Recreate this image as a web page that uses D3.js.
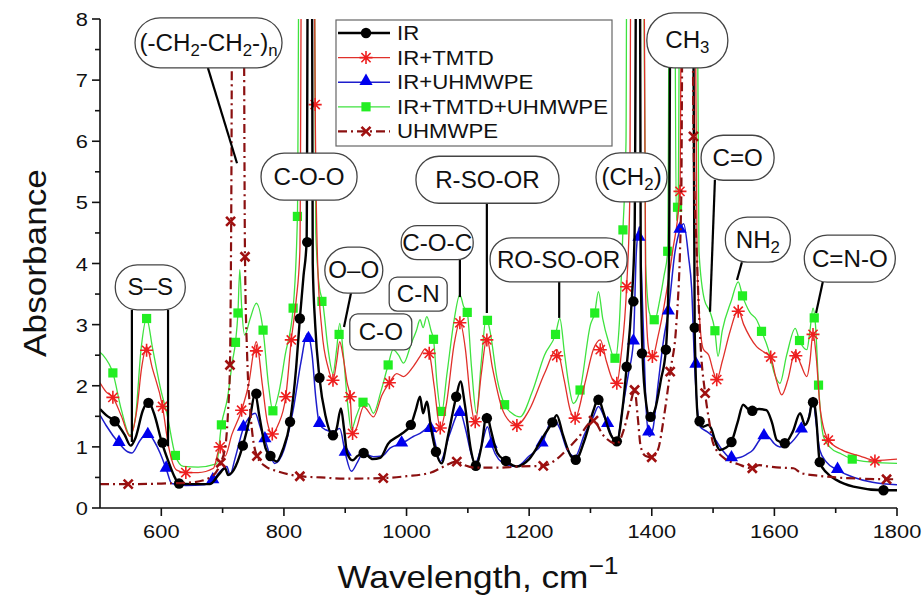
<!DOCTYPE html>
<html>
<head>
<meta charset="utf-8">
<script src="https://cdn.jsdelivr.net/npm/d3@7"></script>
<style>
body { margin: 0; background: #fff; }
text { font-family: "Liberation Sans", Arial, sans-serif; fill: #111; }
</style>
</head>
<body>
<div id="chart"></div>
<script>
// ---- data (wavenumber, absorbance) ----
var seriesNames = ["IR", "IR+TMTD", "IR+UHMWPE", "IR+TMTD+UHMWPE", "UHMWPE"];

var irLine = [[500,1.62],[510,1.52],[524,1.42],[540,1.2],[550,1.02],[558,1.15],[570,1.6],[579,1.74],[588,1.55],[601,1.07],[612,0.75],[622,0.5],[629,0.4],[650,0.39],[679,0.39],[694,0.55],[704,0.65],[709,0.54],[718,0.62],[733,1.02],[745,1.5],[753,1.88],[760,1.5],[770,0.98],[778,0.85],[788,0.76],[798,0.95],[810,1.41],[820,2.3],[826,3.1],[832,3.8],[837,4.35],[840,12],[845,12],[847,4.0],[851,3.0],[858,2.13],[868,1.5],[880,1.19],[886,1.3],[893,1.63],[898,1.3],[903,0.9],[912,0.78],[920,0.85],[930,0.9],[945,0.8],[957,0.82],[970,1.05],[990,1.2],[1007,1.36],[1015,1.6],[1022,1.82],[1027,1.55],[1033,1.74],[1040,1.3],[1048,0.92],[1057,0.73],[1068,1.2],[1081,1.82],[1088,2.07],[1095,1.7],[1105,0.95],[1113,0.69],[1122,1.0],[1131,1.54],[1137,1.3],[1148,0.9],[1162,0.77],[1180,0.68],[1200,0.8],[1225,1.2],[1238,1.4],[1245,1.52],[1255,1.2],[1268,0.85],[1276,0.79],[1290,1.1],[1305,1.6],[1313,1.8],[1320,1.6],[1333,1.2],[1343,1.09],[1352,1.6],[1359,2.31],[1367,3.35],[1372,4.5],[1376,12],[1380,12],[1382,4],[1385,2.5],[1391,1.7],[1397,1.47],[1405,1.6],[1415,2.1],[1423,2.59],[1428,4],[1432,12],[1466,12],[1470,2.9],[1476,1.42],[1484,1.33],[1492,1.36],[1497,1.3],[1505,1.05],[1511,0.95],[1520,0.98],[1530,1.08],[1540,1.4],[1549,1.69],[1557,1.62],[1564,1.59],[1575,1.62],[1587,1.6],[1596,1.4],[1604,1.11],[1617,1.06],[1630,1.25],[1642,1.55],[1650,1.36],[1657,1.5],[1663,1.8],[1668,1.5],[1674,0.75],[1685,0.58],[1701,0.46],[1729,0.35],[1778,0.29],[1800,0.29]];
var irMarks = [[524,1.42],[579,1.72],[602,1.07],[629,0.4],[733,1.02],[755,1.87],[778,0.85],[810,1.41],[826,3.1],[838,4.35],[858,2.13],[880,1.19],[930,0.9],[1007,1.36],[1048,0.92],[1081,1.82],[1113,0.69],[1131,1.47],[1162,0.77],[1238,1.4],[1276,0.79],[1313,1.77],[1343,1.09],[1359,2.31],[1370,3.38],[1384,2.53],[1398,1.49],[1423,2.59],[1470,2.95],[1478,1.42],[1530,1.08],[1564,1.59],[1617,1.06],[1663,1.73],[1674,0.75],[1778,0.29]];

var tmtdLine = [[500,2.05],[510,1.9],[521,1.81],[535,1.5],[549,1.17],[560,1.6],[568,2.3],[576,2.64],[585,2.3],[602,1.66],[612,1.0],[625,0.62],[640,0.58],[660,0.58],[685,0.65],[696,1.0],[704,0.85],[715,1.2],[731,1.6],[742,2.0],[755,2.72],[765,2.0],[773,1.4],[781,1.21],[790,1.35],[803,1.82],[812,2.75],[820,3.4],[826,4.2],[830,12],[848,12],[851,6.6],[855,4.0],[862,2.9],[872,2.3],[880,2.09],[886,2.4],[891,2.72],[897,2.45],[903,2.05],[908,1.82],[912,1.22],[918,1.3],[930,1.66],[946,1.49],[960,1.85],[972,2.05],[984,2.2],[995,2.15],[1010,2.3],[1022,2.48],[1030,2.6],[1037,2.53],[1045,2.0],[1055,1.3],[1065,1.7],[1078,2.7],[1087,3.05],[1096,2.6],[1104,1.8],[1112,1.39],[1122,2.2],[1131,2.78],[1140,2.3],[1155,1.65],[1170,1.4],[1180,1.36],[1200,1.6],[1225,2.2],[1245,2.59],[1257,2.1],[1267,1.6],[1275,1.47],[1290,2.0],[1305,2.6],[1316,2.75],[1326,2.4],[1336,2.1],[1343,2.04],[1350,2.5],[1359,3.62],[1364,5],[1367,12],[1386,12],[1390,3.5],[1395,2.6],[1401,2.46],[1410,2.8],[1420,3.3],[1434,4.2],[1446,5.18],[1450,12],[1468,12],[1474,4],[1478,3.1],[1484,2.6],[1493,2.5],[1500,2.25],[1506,2.1],[1515,2.4],[1528,2.9],[1541,3.24],[1550,3.0],[1560,2.8],[1571,2.64],[1583,2.55],[1594,2.47],[1603,2.1],[1612,1.85],[1622,2.1],[1634,2.56],[1643,2.35],[1653,2.15],[1658,2.4],[1663,2.86],[1668,2.5],[1675,1.6],[1688,1.11],[1710,0.95],[1740,0.85],[1764,0.78],[1800,0.8]];
var tmtdMarks = [[521,1.81],[576,2.58],[602,1.66],[640,0.58],[696,1.0],[731,1.6],[755,2.57],[781,1.21],[803,1.82],[812,2.75],[851,6.6],[880,2.09],[908,1.82],[912,1.22],[972,2.05],[1037,2.53],[1055,1.31],[1087,3.03],[1112,1.41],[1131,2.75],[1180,1.35],[1245,2.49],[1275,1.47],[1316,2.59],[1343,2.04],[1359,3.62],[1401,2.48],[1446,5.18],[1506,2.1],[1541,3.22],[1594,2.47],[1635,2.49],[1663,2.84],[1688,1.11],[1764,0.77]];

var uhLine = [[500,1.52],[510,1.35],[531,1.06],[545,0.92],[552,0.9],[565,1.1],[578,1.23],[588,1.1],[598,0.9],[608,0.64],[617,0.4],[640,0.37],[670,0.38],[684,0.45],[696,0.6],[707,0.68],[712,0.54],[720,0.8],[734,1.31],[745,1.5],[753,1.55],[762,1.3],[769,1.12],[778,0.85],[785,0.73],[800,0.95],[815,1.6],[828,2.4],[838,2.85],[846,2.5],[852,1.8],[858,1.37],[868,1.28],[880,1.25],[891,1.3],[900,0.9],[910,0.6],[920,0.75],[929,0.9],[946,0.84],[960,0.85],[973,0.98],[990,1.05],[1000,1.1],[1011,1.17],[1022,1.22],[1032,1.3],[1039,1.39],[1046,1.1],[1055,0.76],[1070,1.2],[1087,1.58],[1096,1.3],[1105,0.9],[1112,0.73],[1122,1.0],[1132,1.33],[1140,1.0],[1150,0.8],[1162,0.72],[1180,0.68],[1200,0.85],[1221,1.05],[1239,1.47],[1250,1.3],[1262,0.95],[1275,0.84],[1290,1.2],[1305,1.5],[1313,1.66],[1322,1.5],[1328,1.37],[1336,1.15],[1343,1.09],[1352,1.6],[1362,2.2],[1370,2.72],[1375,4.22],[1380,4.6],[1384,3.6],[1388,2.4],[1391,1.6],[1396,1.17],[1402,1.3],[1410,2.0],[1420,2.8],[1427,3.21],[1438,4.2],[1446,4.55],[1452,4.65],[1460,4.11],[1465,3.6],[1470,2.31],[1479,1.33],[1490,1.25],[1500,1.17],[1515,0.95],[1530,0.81],[1545,0.83],[1555,0.88],[1565,0.95],[1575,1.1],[1583,1.2],[1592,1.15],[1600,1.05],[1609,1.0],[1625,1.05],[1644,1.28],[1655,1.45],[1663,1.77],[1668,1.4],[1674,0.95],[1685,0.75],[1703,0.62],[1730,0.5],[1760,0.42],[1800,0.38]];
var uhMarks = [[531,1.06],[578,1.19],[608,0.64],[684,0.45],[734,1.31],[769,1.12],[840,2.76],[858,1.37],[900,0.9],[992,1.05],[1039,1.29],[1087,1.55],[1138,1.03],[1221,1.05],[1328,1.37],[1370,2.72],[1379,4.42],[1395,1.23],[1427,3.21],[1446,4.55],[1472,2.34],[1530,0.81],[1583,1.17],[1644,1.28],[1703,0.62]];

var allLine = [[500,2.55],[505,2.5],[521,2.21],[535,1.6],[549,1.19],[558,1.5],[567,2.6],[576,3.1],[586,2.6],[600,1.9],[609,1.55],[623,0.86],[636,0.68],[660,0.67],[690,0.72],[698,1.36],[708,1.8],[716,2.4],[721,2.71],[725,3.19],[728,3.9],[731,3.3],[736,2.83],[745,3.1],[755,3.35],[766,2.91],[775,2.0],[782,1.59],[792,1.9],[802,2.5],[815,3.27],[822,4.77],[826,12],[848,12],[852,4.5],[858,3.6],[863,3.39],[872,2.6],[880,2.2],[886,2.6],[891,3.02],[897,2.5],[904,1.7],[910,1.28],[918,1.5],[929,1.73],[938,1.7],[946,1.55],[958,1.9],[970,2.34],[978,2.59],[987,2.5],[995,2.37],[1008,2.7],[1016,2.9],[1022,3.08],[1027,2.95],[1033,3.13],[1040,2.9],[1044,2.76],[1050,2.0],[1057,1.55],[1066,2.2],[1078,3.1],[1087,3.49],[1093,3.3],[1099,3.2],[1106,2.3],[1114,1.55],[1122,2.4],[1130,3.12],[1136,2.9],[1148,2.1],[1160,1.69],[1172,1.55],[1185,1.49],[1205,1.9],[1225,2.5],[1243,2.84],[1250,3.1],[1258,2.5],[1265,2.0],[1272,1.71],[1283,1.93],[1300,3.0],[1307,3.19],[1313,3.54],[1320,3.1],[1330,2.7],[1340,2.43],[1347,3.0],[1353,4.55],[1358,6],[1360,12],[1385,12],[1390,4],[1396,3.2],[1404,3.05],[1413,3.4],[1420,3.8],[1426,4.2],[1430,12],[1436,12],[1440,4.7],[1443,4.92],[1447,12],[1472,12],[1477,4.2],[1486,3.4],[1495,3.21],[1503,2.9],[1508,2.48],[1515,2.9],[1530,3.4],[1541,3.7],[1548,3.47],[1560,3.2],[1571,3.08],[1579,2.89],[1590,2.6],[1600,2.2],[1609,2.04],[1620,2.5],[1634,2.94],[1641,2.74],[1653,2.59],[1658,2.9],[1663,3.27],[1667,3.0],[1672,2.01],[1680,1.17],[1690,1.0],[1710,0.88],[1727,0.8],[1760,0.75],[1800,0.73]];
var allMarks = [[521,2.21],[576,3.1],[623,0.86],[698,1.36],[721,2.71],[725,3.19],[766,2.91],[782,1.59],[815,3.27],[822,4.77],[862,3.38],[890,2.84],[929,1.73],[970,2.34],[1044,2.76],[1057,1.58],[1099,3.2],[1132,3.07],[1160,1.69],[1243,2.84],[1283,1.93],[1307,3.19],[1340,2.45],[1353,4.55],[1404,3.08],[1426,4.2],[1442,4.92],[1503,2.9],[1548,3.47],[1579,2.89],[1641,2.74],[1665,3.11],[1672,2.01],[1727,0.8]];

var peLine = [[500,0.39],[546,0.39],[600,0.4],[650,0.42],[680,0.5],[697,0.74],[705,1.05],[709,1.6],[712,2.34],[714,4.69],[717,12],[733,12],[736.5,4.11],[740,2.5],[745,1.6],[756,0.85],[770,0.68],[790,0.6],[826,0.52],[860,0.5],[900,0.48],[962,0.49],[1000,0.52],[1040,0.58],[1055,0.65],[1082,0.76],[1095,0.7],[1112,0.66],[1150,0.66],[1185,0.68],[1223,0.69],[1245,0.8],[1261,0.95],[1280,1.15],[1305,1.43],[1320,1.2],[1343,1.05],[1355,1.3],[1365,1.7],[1372,1.93],[1377,1.5],[1382,1.0],[1390,0.85],[1400,0.83],[1410,0.95],[1420,1.5],[1430,2.23],[1440,3.0],[1448,5],[1452,12],[1465,12],[1468,6.08],[1474,4],[1480,2.6],[1487,1.88],[1494,1.4],[1500,1.06],[1520,0.8],[1540,0.72],[1564,0.65],[1575,0.7],[1590,0.68],[1610,0.66],[1631,0.65],[1644,0.57],[1670,0.53],[1700,0.5],[1740,0.48],[1783,0.47],[1800,0.47]];
var peMarks = [[546,0.39],[697,0.74],[712,2.34],[713,4.69],[736.5,4.11],[756,0.85],[826,0.52],[962,0.49],[1082,0.76],[1223,0.69],[1305,1.43],[1372,1.93],[1400,0.83],[1430,2.23],[1468,6.08],[1487,1.88],[1564,0.65],[1783,0.47]];

var xTicks = [600, 800, 1000, 1200, 1400, 1600, 1800];
var xMinor = [700, 900, 1100, 1300, 1500, 1700];
var yTicks = [0, 1, 2, 3, 4, 5, 6, 7, 8];
var yMinor = [0.5, 1.5, 2.5, 3.5, 4.5, 5.5, 6.5, 7.5];

// labels: text parts [string, isSub], box centre in data units, box size in px
var labels = [
  {t:[["(-CH",0],["2",1],["-CH",0],["2",1],["-)",0],["n",1]], x:677, y:7.61, w:147, h:50, r:25},
  {t:[["C-O-O",0]], x:841, y:5.42, w:96, h:47, r:23},
  {t:[["O\u2013O",0]], x:914, y:3.89, w:58, h:46, r:23},
  {t:[["C-O",0]], x:958, y:2.88, w:62, h:36, r:8},
  {t:[["C-N",0]], x:1019, y:3.50, w:58, h:34, r:8},
  {t:[["C-O-C",0]], x:1050, y:4.34, w:72, h:34, r:16},
  {t:[["R-SO-OR",0]], x:1132, y:5.37, w:143, h:47, r:23},
  {t:[["RO-SO-OR",0]], x:1248, y:4.06, w:137, h:44, r:21},
  {t:[["S\u2013S",0]], x:582, y:3.61, w:70, h:45, r:22},
  {t:[["(CH",0],["2",1],[")",0]], x:1367, y:5.41, w:71, h:49, r:24},
  {t:[["CH",0],["3",1]], x:1458, y:7.65, w:81, h:55, r:27},
  {t:[["C=O",0]], x:1540, y:5.73, w:73, h:45, r:22},
  {t:[["NH",0],["2",1]], x:1573, y:4.39, w:65, h:45, r:22},
  {t:[["C=N-O",0]], x:1723, y:4.08, w:91, h:47, r:23}
];
// leader lines [x1,y1,x2,y2] in data units
var leaders = [[676,7.2,723.5,5.64],[909.5,3.52,898,2.96],[1087,4.06,1087,3.45],[1131,4.99,1131,3.19],[1249,3.70,1249,3.11],[552,3.24,552,1.08],[611,3.24,611,1.01],[1503,5.37,1495,3.21],[1547,4.02,1539,3.73],[1679,3.70,1668,3.19]];

// ---- drawing ----
var W = 924, H = 601;
var x = d3.scaleLinear().domain([500, 1800]).range([100, 897]);
var y = d3.scaleLinear().domain([0, 8]).range([508, 19]);

var svg = d3.select("#chart").append("svg").attr("width", W).attr("height", H);

function stext(parent, px, py, sx, size, anchor, str, rot) {
  var g = parent.append("g").attr("transform", "translate(" + px + "," + py + ")" + (rot ? " rotate(" + rot + ")" : "") + " scale(" + sx + ",1)");
  return g.append("text").attr("font-size", size).attr("text-anchor", anchor).text(str);
}

function starPath(r) {
  var p = "";
  for (var i = 0; i < 4; i++) {
    var a = i * Math.PI / 4;
    p += "M" + (-r * Math.cos(a)) + "," + (-r * Math.sin(a)) + "L" + (r * Math.cos(a)) + "," + (r * Math.sin(a));
  }
  return p;
}
function crossPath(r) {
  return "M" + (-r) + "," + (-r) + "L" + r + "," + r + "M" + (-r) + "," + r + "L" + r + "," + (-r);
}

function drawMark(g, kind, color, px, py) {
  if (kind == "circle") {
    g.append("circle").attr("cx", px).attr("cy", py).attr("r", 5.2).attr("fill", color);
  } else if (kind == "tri") {
    g.append("path").attr("d", d3.symbol(d3.symbolTriangle, 75)()).attr("transform", "translate(" + px + "," + (py - 1) + ")").attr("fill", color);
  } else if (kind == "square") {
    g.append("rect").attr("x", px - 4.6).attr("y", py - 4.6).attr("width", 9.2).attr("height", 9.2).attr("fill", color);
  } else if (kind == "star") {
    g.append("path").attr("d", starPath(6.5)).attr("transform", "translate(" + px + "," + py + ")").attr("stroke", color).attr("stroke-width", 1.6).attr("fill", "none");
  } else if (kind == "x") {
    g.append("path").attr("d", crossPath(4.5)).attr("transform", "translate(" + px + "," + py + ")").attr("stroke", color).attr("stroke-width", 2.6).attr("fill", "none");
  }
}

var series = [
  {name: seriesNames[3], line: allLine, marks: allMarks, color: "#3fe23f", mcolor: "#22ee22", w: 1.3, dash: null, kind: "square"},
  {name: seriesNames[1], line: tmtdLine, marks: tmtdMarks, color: "#e0302a", mcolor: "#ee1f1f", w: 1.3, dash: null, kind: "star"},
  {name: seriesNames[2], line: uhLine, marks: uhMarks, color: "#1d1dcc", mcolor: "#0000ee", w: 1.5, dash: null, kind: "tri"},
  {name: seriesNames[0], line: irLine, marks: irMarks, color: "#000", mcolor: "#000", w: 2.4, dash: null, kind: "circle"},
  {name: seriesNames[4], line: peLine, marks: peMarks, color: "#8b1010", mcolor: "#a01010", w: 2.2, dash: "9,4,2,4", kind: "x"}
];

svg.append("clipPath").attr("id", "plot").append("rect")
  .attr("x", 100).attr("y", 19).attr("width", 797).attr("height", 489);

var line = d3.line().x(function(d) { return x(d[0]); }).y(function(d) { return y(d[1]); }).curve(d3.curveMonotoneX);

var plot = svg.append("g").attr("clip-path", "url(#plot)");
series.forEach(function(s) {
  plot.append("path").datum(s.line)
    .attr("d", line)
    .attr("fill", "none")
    .attr("stroke", s.color)
    .attr("stroke-width", s.w)
    .attr("stroke-dasharray", s.dash);
  var mg = plot.append("g");
  s.marks.forEach(function(m) { drawMark(mg, s.kind, s.mcolor, x(m[0]), y(m[1])); });
});

// axes
var ax = svg.append("g").attr("stroke", "#111").attr("stroke-width", 1.6);
ax.append("line").attr("x1", x(500)).attr("x2", x(500)).attr("y1", y(8)).attr("y2", y(0));
ax.append("line").attr("x1", x(500)).attr("x2", x(1800)).attr("y1", y(0)).attr("y2", y(0));
yTicks.forEach(function(v) {
  ax.append("line").attr("x1", x(500) - 8).attr("x2", x(500)).attr("y1", y(v)).attr("y2", y(v));
  stext(svg, x(500) - 12, y(v) + 7, 1.15, 19, "end", v);
});
yMinor.forEach(function(v) {
  ax.append("line").attr("x1", x(500) - 5).attr("x2", x(500)).attr("y1", y(v)).attr("y2", y(v));
});
xTicks.forEach(function(v) {
  ax.append("line").attr("x1", x(v)).attr("x2", x(v)).attr("y1", y(0)).attr("y2", y(0) + 8);
  stext(svg, x(v), y(0) + 30, 1.15, 19, "middle", v);
});
xMinor.forEach(function(v) {
  ax.append("line").attr("x1", x(v)).attr("x2", x(v)).attr("y1", y(0)).attr("y2", y(0) + 5);
});

stext(svg, 46, 263, 1.1, 32, "middle", "Absorbance", -90);
var xt = stext(svg, 478, 588, 1.1, 32, "middle", "Wavelength, cm");
xt.append("tspan").attr("font-size", 24).attr("dy", -14).text("\u22121");

// leader lines and label boxes
var ann = svg.append("g");
leaders.forEach(function(l) {
  ann.append("line").attr("x1", x(l[0])).attr("y1", y(l[1])).attr("x2", x(l[2])).attr("y2", y(l[3]))
    .attr("stroke", "#000").attr("stroke-width", 2.2);
});
labels.forEach(function(b) {
  var cx = x(b.x), cy = y(b.y);
  ann.append("rect").attr("x", cx - b.w / 2).attr("y", cy - b.h / 2).attr("width", b.w).attr("height", b.h)
    .attr("rx", b.r).attr("ry", b.r).attr("fill", "#fff").attr("stroke", "#444").attr("stroke-width", 1.3);
  var t = stext(ann, cx, cy + 8, 1.05, 23, "middle", "");
  var down = false;
  b.t.forEach(function(p) {
    var ts = t.append("tspan").text(p[0]);
    if (p[1]) { ts.attr("font-size", 16).attr("dy", down ? 0 : 5); down = true; }
    else if (down) { ts.attr("dy", -5); down = false; }
  });
});

// legend
var lg = svg.append("g");
lg.append("rect").attr("x", 336).attr("y", 20).attr("width", 276).attr("height", 126)
  .attr("fill", "#fff").attr("stroke", "#666").attr("stroke-width", 1.2);
var order = [3, 1, 2, 0, 4];
order.forEach(function(si, i) {
  var s = series[si];
  var ly = 33 + i * 24.6;
  lg.append("line").attr("x1", 338).attr("x2", 390).attr("y1", ly).attr("y2", ly)
    .attr("stroke", s.color).attr("stroke-width", s.w).attr("stroke-dasharray", s.dash);
  drawMark(lg, s.kind, s.mcolor, 366, ly);
  stext(lg, 397, ly + 7, 1.14, 19.5, "start", s.name);
});
</script>
</body>
</html>
